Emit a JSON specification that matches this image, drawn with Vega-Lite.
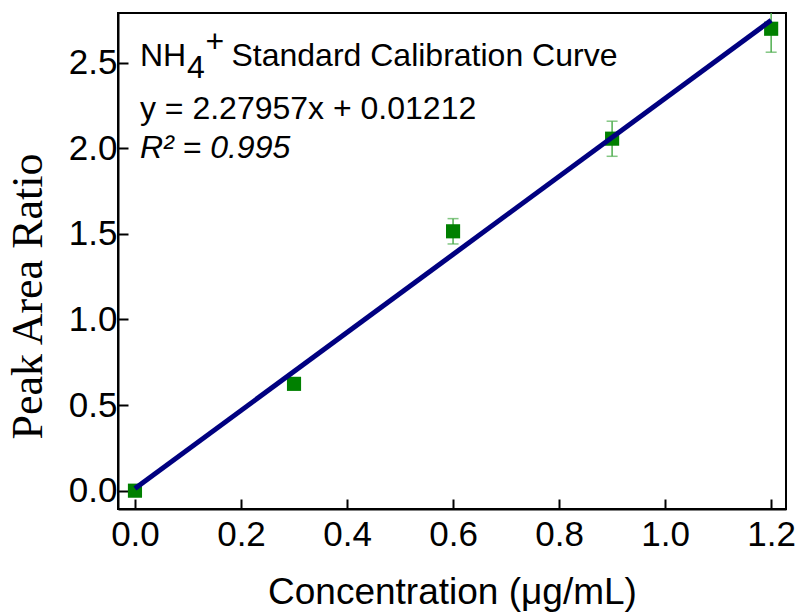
{
  "$schema": "https://vega.github.io/schema/vega-lite/v6.json",
  "autosize": {"type": "none"},
  "width": 668,
  "height": 496,
  "padding": {"left": 118, "top": 13, "right": 14, "bottom": 103},
  "background": "white",
  "config": {
    "view": {"stroke": "black", "strokeWidth": 2},
    "axis": {
      "grid": false,
      "domainColor": "black",
      "domainWidth": 2,
      "tickColor": "black",
      "tickWidth": 2,
      "tickSize": -10,
      "labelFont": "Liberation Sans",
      "labelFontSize": 35,
      "labelColor": "black",
      "titleColor": "black",
      "titleFontWeight": "normal"
    }
  },
  "datasets": {
    "points": [
      {"conc": 0.0, "ratio": 0.0, "lo": 0.0, "hi": 0.0},
      {"conc": 0.3, "ratio": 0.624, "lo": 0.614, "hi": 0.634},
      {"conc": 0.6, "ratio": 1.515, "lo": 1.441, "hi": 1.589},
      {"conc": 0.9, "ratio": 2.056, "lo": 1.953, "hi": 2.158},
      {"conc": 1.2, "ratio": 2.698, "lo": 2.561, "hi": 2.835}
    ],
    "fit": [
      {"conc": 0.0, "ratio": 0.01212},
      {"conc": 1.2, "ratio": 2.7476}
    ],
    "notes": [
      {"conc": 0.0094, "ratio": 2.4795, "text": "NH"},
      {"conc": 0.182, "ratio": 2.4795, "text": "Standard Calibration Curve"},
      {"conc": 0.0094, "ratio": 2.168, "text": "y = 2.27957x + 0.01212"}
    ],
    "sub": [
      {"conc": 0.098, "ratio": 2.413, "text": "4"}
    ],
    "sup": [
      {"conc": 0.133, "ratio": 2.56, "text": "+"}
    ],
    "italic": [
      {"conc": 0.0094, "ratio": 1.945, "text": "R² = 0.995"}
    ]
  },
  "encoding": {
    "x": {
      "field": "conc",
      "type": "quantitative",
      "scale": {"domain": [-0.032, 1.228], "nice": false, "zero": false},
      "axis": {
        "values": [0, 0.2, 0.4, 0.6, 0.8, 1.0, 1.2],
        "format": ".1f",
        "labelPadding": 18,
        "title": "Concentration (μg/mL)",
        "titleFont": "Liberation Sans",
        "titleFontSize": 37,
        "titleY": 94,
        "titleBaseline": "alphabetic"
      }
    },
    "y": {
      "field": "ratio",
      "type": "quantitative",
      "scale": {"domain": [-0.107, 2.79], "nice": false, "zero": false},
      "axis": {
        "values": [0, 0.5, 1.0, 1.5, 2.0, 2.5],
        "format": ".1f",
        "labelPadding": 11,
        "title": "Peak Area Ratio",
        "titleFont": "Liberation Serif",
        "titleFontSize": 44,
        "titleX": -77,
        "titleY": 283,
        "titleAlign": "center",
        "titleBaseline": "alphabetic",
        "titleAngle": -90
      }
    }
  },
  "layer": [
    {
      "data": {"name": "points"},
      "mark": {"type": "rule", "color": "#4fae4f", "strokeWidth": 1.5, "clip": true},
      "encoding": {"y": {"field": "lo", "type": "quantitative"}, "y2": {"field": "hi"}}
    },
    {
      "data": {"name": "points"},
      "mark": {"type": "tick", "orient": "horizontal", "color": "#4fae4f", "thickness": 1.5, "size": 11, "clip": true},
      "encoding": {"y": {"field": "lo", "type": "quantitative"}}
    },
    {
      "data": {"name": "points"},
      "mark": {"type": "tick", "orient": "horizontal", "color": "#4fae4f", "thickness": 1.5, "size": 11, "clip": true},
      "encoding": {"y": {"field": "hi", "type": "quantitative"}}
    },
    {
      "data": {"name": "points"},
      "mark": {"type": "square", "color": "#008000", "opacity": 1, "filled": true, "size": 200}
    },
    {
      "data": {"name": "fit"},
      "mark": {"type": "line", "color": "#000080", "strokeWidth": 5},
      "encoding": {}
    },
    {
      "data": {"name": "notes"},
      "mark": {"type": "text", "font": "Liberation Sans", "fontSize": 32, "align": "left", "baseline": "alphabetic", "color": "black"},
      "encoding": {"text": {"field": "text"}}
    },
    {
      "data": {"name": "sub"},
      "mark": {"type": "text", "font": "Liberation Sans", "fontSize": 32, "align": "left", "baseline": "alphabetic", "color": "black"},
      "encoding": {"text": {"field": "text"}}
    },
    {
      "data": {"name": "sup"},
      "mark": {"type": "text", "font": "Liberation Sans", "fontSize": 32, "align": "left", "baseline": "alphabetic", "color": "black"},
      "encoding": {"text": {"field": "text"}}
    },
    {
      "data": {"name": "italic"},
      "mark": {"type": "text", "font": "Liberation Sans", "fontSize": 32, "fontStyle": "italic", "align": "left", "baseline": "alphabetic", "color": "black"},
      "encoding": {"text": {"field": "text"}}
    }
  ]
}
